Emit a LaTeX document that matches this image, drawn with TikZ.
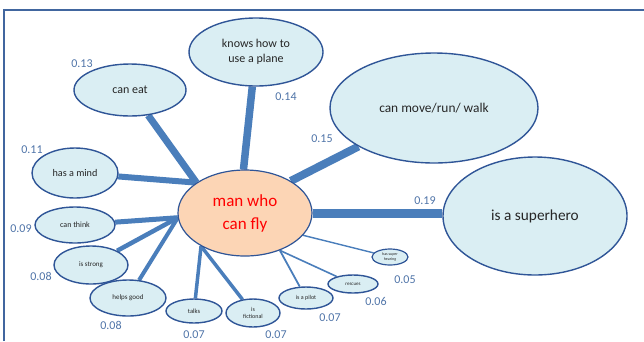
\documentclass[tikz,border=0pt]{standalone}
\usepackage{fontspec}
\setmainfont{Carlito}
\usetikzlibrary{shapes.geometric,backgrounds}
\definecolor{nodefill}{HTML}{DAEEF3}
\definecolor{nodeline}{HTML}{2F5597}
\definecolor{linkblue}{HTML}{4A7EBB}
\definecolor{numblue}{HTML}{4F74A8}
\definecolor{peach}{HTML}{FCD5B5}
\definecolor{framecol}{HTML}{41669F}
\tikzset{
  bubble/.style={ellipse, draw=nodeline, line width=1.4pt, fill=nodefill, inner sep=0pt, align=center, text=black!85},
  hub/.style={ellipse, draw=nodeline, line width=1.2pt, fill=peach, inner sep=0pt, align=center, text=red},
  link/.style={draw=linkblue},
  num/.style={text=numblue, font=\fontsize{12}{12}\selectfont, inner sep=0pt},
}
\begin{document}
\begin{tikzpicture}[x=1pt,y=-1pt]
\useasboundingbox (0,0) rectangle (644,341);
\draw[framecol, line width=1.6pt] (4,341) -- (4,10) -- (645,10);

\node[hub, minimum width=134, minimum height=86, font=\fontsize{17}{23}\selectfont] (c) at (245,213) {man who\\can fly};

\node[bubble, minimum width=134, minimum height=68, font=\fontsize{12}{15}\selectfont] (plane) at (256,52) {knows how to\\use a plane};
\node[bubble, minimum width=112, minimum height=52, font=\fontsize{12}{14}\selectfont] (eat) at (130,90) {can eat};
\node[bubble, minimum width=208, minimum height=110, font=\fontsize{13.4}{15}\selectfont] (move) at (434,108) {can move/run/ walk};
\node[bubble, minimum width=184, minimum height=118, font=\fontsize{15.3}{17}\selectfont] (hero) at (535,216) {is a superhero};
\node[bubble, minimum width=86, minimum height=50, font=\fontsize{10.2}{12}\selectfont] (mind) at (75,173) {has a mind};
\node[bubble, minimum width=80, minimum height=36, font=\fontsize{8}{10}\selectfont] (think) at (75,225) {can think};
\node[bubble, minimum width=74, minimum height=38, font=\fontsize{7}{9}\selectfont] (strong) at (91,265) {is strong};
\node[bubble, minimum width=76, minimum height=36, font=\fontsize{7}{9}\selectfont] (helps) at (128,298) {helps good};
\node[bubble, minimum width=56, minimum height=24, font=\fontsize{6.5}{8}\selectfont] (talks) at (194,311) {talks};
\node[bubble, minimum width=54, minimum height=28, font=\fontsize{6}{7.5}\selectfont] (fict) at (253,313) {is\\fictional};
\node[bubble, minimum width=54, minimum height=22, font=\fontsize{6}{7}\selectfont] (pilot) at (306,298) {is a pilot};
\node[bubble, minimum width=50, minimum height=18, font=\fontsize{5}{6}\selectfont] (resc) at (353,284) {rescues};
\node[bubble, minimum width=36, minimum height=16, line width=1.2pt, font=\fontsize{4}{5}\selectfont] (hear) at (390,257) {has super\\hearing};

\begin{scope}[on background layer]
\draw[link, line width=9pt] (c.east) -- (hero.west |- c.east);
\draw[link, line width=8pt] (c.35) -- (move);
\draw[link, line width=7.5pt] (c.92) -- (plane);
\draw[link, line width=7pt] (c.148) -- (eat);
\draw[link, line width=6pt] (c.148) -- (mind);
\draw[link, line width=5pt] (c.184) -- (think);
\draw[link, line width=4.5pt] (c.184) -- (strong);
\draw[link, line width=4pt] (c.184) -- (helps);
\draw[link, line width=3.5pt] (c.217) -- (talks);
\draw[link, line width=3.5pt] (c.217) -- (fict);
\draw[link, line width=1.8pt] (c.313) -- (pilot);
\draw[link, line width=1.6pt] (c.313) -- (resc);
\draw[link, line width=1.4pt] (c.339) -- (hear);
\end{scope}

\node[num] (n1) at (82,64) {0.13};
\node[num] (n2) at (286,97) {0.14};
\node[num] (n3) at (322,139) {0.15};
\node[num] (n4) at (425,201) {0.19};
\node[num] (n5) at (32,150) {0.11};
\node[num] (n6) at (21,229) {0.09};
\node[num] (n7) at (41,276) {0.08};
\node[num] (n8) at (111,325) {0.08};
\node[num] (n9) at (194,335) {0.07};
\node[num] (n10) at (276,335) {0.07};
\node[num] (n11) at (330,318) {0.07};
\node[num] (n12) at (376,301) {0.06};
\node[num] (n13) at (405,280) {0.05};
\end{tikzpicture}
\end{document}
